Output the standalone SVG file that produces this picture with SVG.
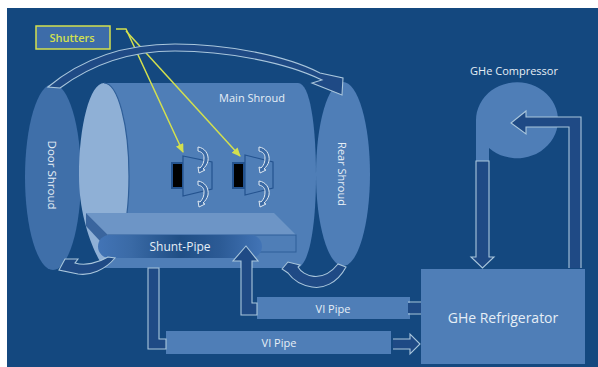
<svg xmlns="http://www.w3.org/2000/svg" width="598" height="367" viewBox="0 0 598 367">
<style>
text{font-family:"Open Sans","Noto Sans","Liberation Sans",sans-serif;fill:#e6eef6;text-anchor:middle}
.body{fill:#4f7eb7}
.pipe{fill:#1f4a85;stroke:#a9c6dc;stroke-width:1.1;stroke-linejoin:miter}
.curl{fill:#3c6ba6;stroke:#dfe9f2;stroke-width:1}
.y{fill:none;stroke:#d3e04e;stroke-width:1.5}
</style>
<defs>
<linearGradient id="sp" x1="0" x2="1" y1="0" y2="0"><stop offset="0" stop-color="#4274b6"/><stop offset=".2" stop-color="#3a6aa6"/><stop offset=".5" stop-color="#1f4e85"/><stop offset=".75" stop-color="#2c5b96"/><stop offset="1" stop-color="#4274b6"/></linearGradient>
<marker id="ya" markerWidth="10" markerHeight="10" refX="8" refY="4" orient="auto" markerUnits="userSpaceOnUse"><path d="M0 0L9 4L0 8Z" fill="#d3e04e"/></marker>
</defs>
<rect width="598" height="367" fill="#fff"/>
<rect x="7" y="8" width="591" height="359" fill="#14487f"/>
<g id="door-shroud"><ellipse cx="53" cy="177" rx="28" ry="93" fill="#3f6fa9"/><text transform="translate(52 175) rotate(90)" y="4" font-size="11.500">Door Shroud</text></g>
<g id="rear-shroud"><ellipse cx="343" cy="174" rx="27" ry="92" fill="#4f7eb7"/><text transform="translate(342 174) rotate(90)" y="4" font-size="11">Rear Shroud</text></g>
<g id="main-shroud">
<path class="body" d="M104 83H298C310 83 316 125 316 176C316 227 309 268 296 268H104Z"/>
<path d="M104 83C118 83 129 125 129 176C129 195 128 205 127 213H116V250L115 258L104 268C92 250 79 215 79 176C79 125 90 83 104 83Z" fill="#8fb0d6"/>
<path d="M104 83C118 83 129 125 129 176C129 195 128 205 127 213" fill="none" stroke="#2f5f99" stroke-width="1.200"/>
<text x="252" y="102" font-size="11">Main Shroud</text></g>
<g id="shutter-1">
<rect x="171" y="162" width="13" height="27" fill="#24538f"/><rect x="173" y="164" width="9" height="23" fill="#000"/>
<path d="M183 156L212 162V189L183 196Z" fill="#4f7eb7" stroke="#24538f" stroke-width="1.2"/>
<path class="curl" d="M198 147C205 148 209 154 208 161C207 165 205 167 203 169L205 170L199 173L198 167L200 168C203 165 204 162 204 158C204 154 202 152 198 151Z"/>
<path class="curl" d="M198 181C205 182 209 188 208 195C207 199 205 201 203 203L205 204L199 207L198 201L200 202C203 199 204 196 204 192C204 188 202 186 198 185Z"/>
</g>
<g id="shutter-2">
<rect x="232" y="162" width="13" height="27" fill="#24538f"/><rect x="234" y="164" width="9" height="23" fill="#000"/>
<path d="M245 155L273 162V188L245 195Z" fill="#4f7eb7" stroke="#24538f" stroke-width="1.2"/>
<path class="curl" d="M259 147C266 148 270 154 269 161C268 165 266 167 264 169L266 170L260 173L259 167L261 168C264 165 265 162 265 158C265 154 263 152 259 151Z"/>
<path class="curl" d="M259 181C266 182 270 188 269 195C268 199 266 201 264 203L266 204L260 207L259 201L261 202C264 199 265 196 265 192C265 188 263 186 259 185Z"/>
</g>
<g id="shunt-pipe">
<path d="M86 213H274L296 235H108Z" fill="#6d95c6"/>
<path d="M86 213L108 235L100 241L86 226Z" fill="#3a659e"/>
<rect x="108" y="235" width="188" height="17" fill="#4f7eb7" stroke="#2f5f99"/>
<rect x="98" y="235" width="164" height="23" rx="11.5" fill="url(#sp)"/>
<text x="180" y="251" font-size="12">Shunt-Pipe</text></g>
<g id="vi-pipe-1"><rect x="257" y="297" width="153" height="22" fill="#4f7eb7"/><text x="333" y="313" font-size="11">VI Pipe</text></g>
<g id="vi-pipe-2"><rect x="166" y="331" width="225" height="23" fill="#4f7eb7"/><text x="279" y="347" font-size="11">VI Pipe</text></g>
<g id="refrigerator"><rect x="421" y="269" width="164" height="95" fill="#4f7eb7"/><text x="503" y="323" font-size="14" font-weight="500">GHe Refrigerator</text></g>
<g id="compressor"><path d="M476 121A41 38 0 1 1 489 148V161H476Z" fill="#4f7eb7"/><text x="514" y="75" font-size="11">GHe Compressor</text></g>
<g id="shutters-label"><rect x="36" y="26" width="74" height="23" fill="#3d6ca9" stroke="#d3e04e" stroke-width="1.5"/><text x="72" y="42" font-size="11" font-weight="600" style="fill:#d3e04e">Shutters</text></g>
<g id="connectors">
<path class="y" d="M116 29H126L183 152" marker-end="url(#ya)"/>
<path class="y" d="M126 31L240 156" marker-end="url(#ya)"/>
<path class="pipe" d="M48 87C85 56 130 44 175 44C225 44 285 55 320 73L343 78L342 95L312 83L322 80C285 62 225 51 175 51C135 51 95 62 60 88Z"/>
<path class="pipe" d="M59 270L65 259L78 259L75 263C85 266 98 263 108 257L115 258C105 270 90 276 78 274Z"/>
<path class="pipe" d="M282 269L288 262L300 265L298 267C303 276 322 284 338 264L346 267C337 284 322 289 312 287C300 285 293 280 288 273Z"/>
<path class="pipe" d="M148 268H159V339H166V349H148Z"/>
<path class="pipe" d="M241 315V261H233L246 246L258 261H252V303H257V315Z"/>
<rect x="408" y="303" width="13" height="10" fill="#1f4a85"/>
<path class="pipe" d="M408 302H421M408 314H421"/>
<path class="pipe" d="M393 339H410V334L420 344L410 354V349H393"/>
<path class="pipe" d="M476 161H489V257H494L482.500 268L471 257H476Z"/>
<path class="pipe" d="M569 268V127H526V134L511 123L526 111V117H581V268"/>
</g>
</svg>
